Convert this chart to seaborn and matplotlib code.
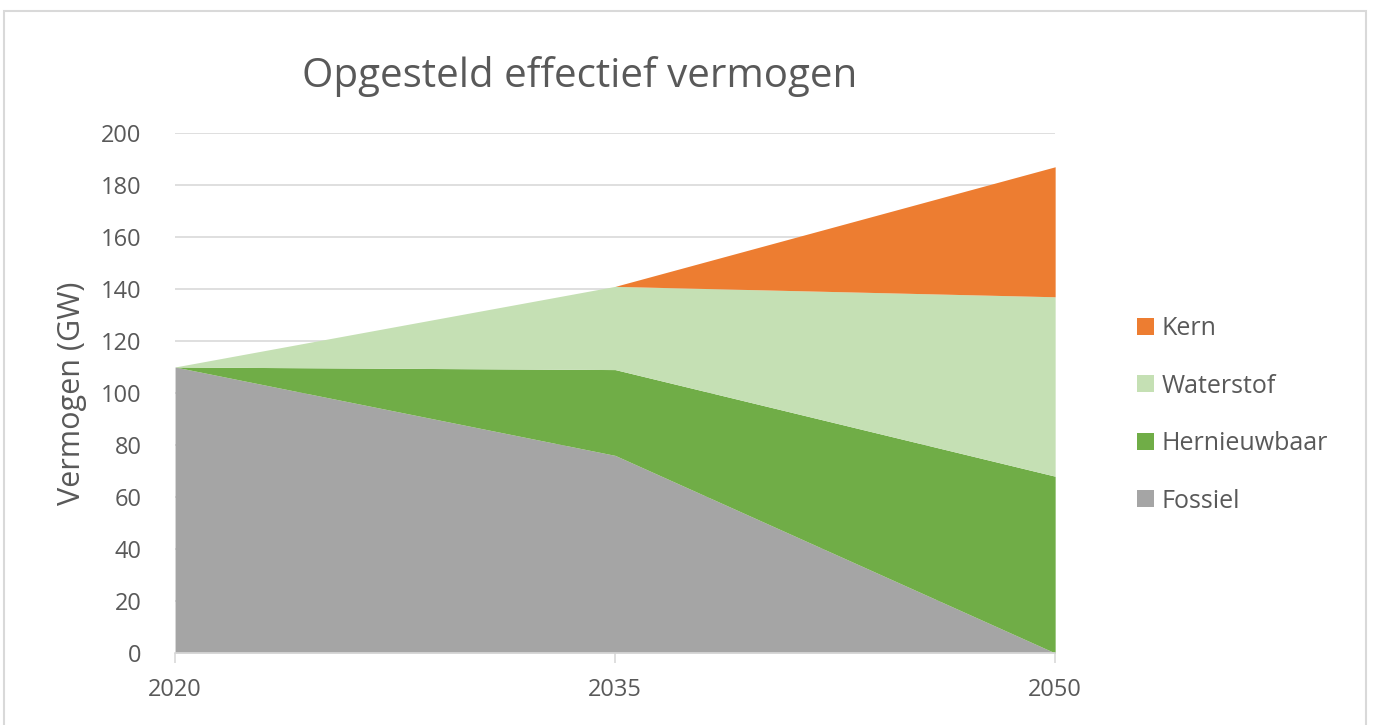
import matplotlib
matplotlib.use("Agg")
import matplotlib.pyplot as plt
import seaborn as sns
from matplotlib.patches import Patch, Rectangle

# Opgesteld effectief vermogen (GW)
years = ['2020', '2035', '2050']
fossiel = [110, 76, 0]
hernieuwbaar = [0, 33, 68]
waterstof = [0, 32, 69]
kern = [0, 0, 50]

series = ['Fossiel', 'Hernieuwbaar', 'Waterstof', 'Kern']
colors = ['#A5A5A5', '#70AD47', '#C5E0B4', '#ED7D31']
text_col = '#595959'

sns.set_theme(style='white')
plt.rcParams['font.family'] = ['Open Sans', 'DejaVu Sans']

fig = plt.figure(figsize=(13.73, 7.25), dpi=100)
ax = fig.add_axes([0.1275, 0.0993, 0.641, 0.7173])

x = list(range(len(years)))
ax.stackplot(x, fossiel, hernieuwbaar, waterstof, kern, colors=colors,
             linewidth=0, zorder=2)

ax.set_xlim(0, len(years) - 1)
ax.set_ylim(0, 200)
ax.set_yticks(range(0, 201, 20))
ax.set_xticks(x)
ax.set_xticklabels(years)
ax.yaxis.grid(True, color='#D9D9D9', linewidth=1.2, zorder=0)
ax.set_axisbelow(True)

for s in ['top', 'right', 'left']:
    ax.spines[s].set_visible(False)
ax.spines['bottom'].set_color('#D9D9D9')
ax.spines['bottom'].set_linewidth(1.2)
ax.spines['bottom'].set_zorder(3)

ax.tick_params(axis='x', which='major', bottom=True, length=7, width=1.2,
               color='#D9D9D9', labelsize=17, labelcolor=text_col, pad=11)
ax.tick_params(axis='y', left=False, labelsize=17, labelcolor=text_col, pad=18)

ax.set_ylabel('Vermogen (GW)', fontsize=22, color=text_col, labelpad=10)
fig.text(0.4225, 0.895, 'Opgesteld effectief vermogen', ha='center',
         va='center', fontsize=29, color=text_col)

handles = [Patch(facecolor=c, edgecolor='none') for c in colors][::-1]
leg = ax.legend(handles, series[::-1], loc='center left',
                bbox_to_anchor=(1.093, 0.458), frameon=False, fontsize=18,
                labelspacing=1.3, handlelength=0.68, handleheight=0.68,
                handletextpad=0.32, borderpad=0, borderaxespad=0)
for t in leg.get_texts():
    t.set_color(text_col)

# outer chart frame
fig.patches.append(Rectangle((0.003, -0.01), 0.992, 0.995, transform=fig.transFigure,
                             fill=False, edgecolor='#D9D9D9', linewidth=1.5))

fig.savefig('out.png', dpi=100)
